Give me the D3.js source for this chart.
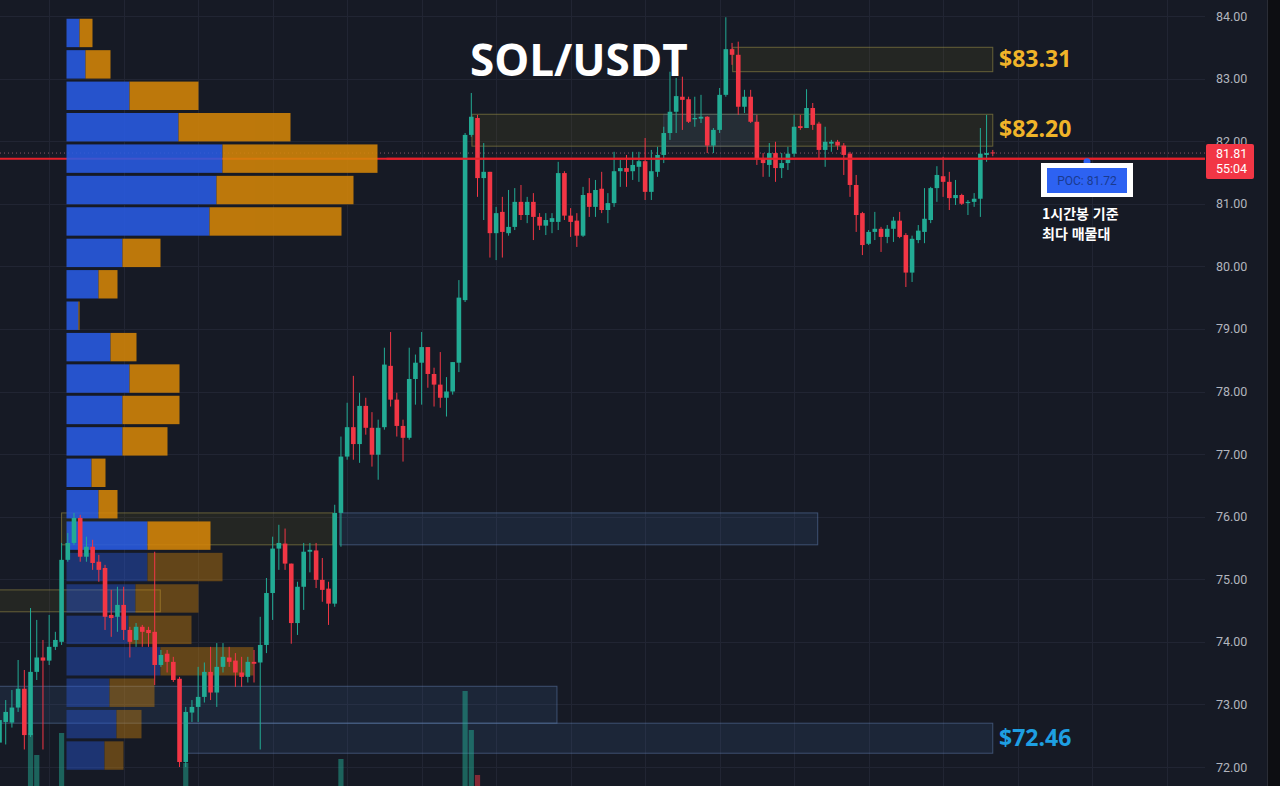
<!DOCTYPE html>
<html lang="ko">
<head>
<meta charset="utf-8">
<title>SOL/USDT</title>
<script src="https://cdn.jsdelivr.net/npm/d3@7/dist/d3.min.js"></script>
<style>
  html, body { margin: 0; padding: 0; background: #161a25; overflow: hidden; }
  svg { display: block; }
</style>
</head>
<body>
<div id="chart"></div>
<script>
const WIDTH = 1280;
const HEIGHT = 786;
const PLOT_RIGHT = 1205;
const AXIS_LABEL_X = 1216;

const BG = "#161a25";
const GRID = "#212533";
const UP = "#22ab94";
const DOWN = "#f23645";
const POC_RED = "#e4212b";

// 1h candles, [open, high, low, close]
const candleOHLC = [
  [72.39,72.88,72.31,72.75],[72.72,73.07,72.36,72.88],[72.71,73.23,72.63,72.95],[72.95,73.71,72.88,73.25],
  [73.25,73.55,72.28,72.51],[72.51,74.54,72.48,73.52],[73.52,74.35,73.39,73.75],[73.75,74.03,72.28,73.70],
  [73.70,74.43,73.63,73.92],[73.92,74.16,73.87,74.03],[74.00,75.58,73.95,75.31],[75.31,75.74,75.28,75.58],
  [75.58,76.06,75.55,75.98],[75.98,76.03,75.28,75.36],[75.36,75.68,75.28,75.52],[75.52,75.63,75.15,75.26],
  [75.28,75.39,74.96,75.15],[75.18,75.23,74.19,74.40],[74.43,74.83,74.08,74.38],[74.40,74.88,74.16,74.59],
  [74.59,74.88,74.03,74.19],[74.19,74.24,73.75,74.00],[74.03,74.30,73.92,74.24],[74.24,74.27,73.92,74.16],
  [74.19,74.24,73.92,74.14],[74.16,75.44,73.31,73.63],[73.63,73.87,73.60,73.79],[73.81,73.87,73.51,73.68],
  [73.68,73.76,73.36,73.39],[73.41,73.44,72.00,72.08],[72.08,72.96,72.00,72.88],[72.87,73.07,72.72,72.96],
  [72.96,73.60,72.72,73.12],[73.12,73.67,73.03,73.52],[73.52,73.92,73.07,73.19],[73.19,73.98,72.96,73.60],
  [73.60,73.98,73.51,73.76],[73.75,73.92,73.60,73.68],[73.70,73.82,73.28,73.51],[73.51,73.76,73.28,73.44],
  [73.44,73.76,73.35,73.68],[73.68,73.87,73.35,73.65],[73.67,74.40,72.28,73.95],[73.95,75.02,73.82,74.78],
  [74.78,75.68,74.35,75.49],[75.49,75.87,75.15,75.58],[75.57,75.81,75.15,75.25],[75.25,75.25,73.97,74.30],
  [74.30,74.96,74.11,74.88],[74.88,75.58,74.51,75.44],[75.44,75.58,75.11,75.47],[75.46,75.58,74.86,74.99],
  [74.99,75.34,74.64,74.83],[74.85,74.96,74.27,74.61],[74.61,76.19,74.56,76.06],[76.06,77.28,75.52,76.96],
  [76.96,77.82,76.91,77.43],[77.43,78.25,76.91,77.16],[77.16,77.98,76.86,77.77],[77.77,77.90,77.31,77.42],
  [77.42,77.67,76.80,76.99],[76.99,77.55,76.59,77.42],[77.43,78.70,77.39,78.43],[78.41,78.95,77.76,77.87],
  [77.87,77.98,77.28,77.45],[77.45,77.55,76.88,77.26],[77.26,78.70,77.23,78.20],[78.20,78.59,77.79,78.46],
  [78.46,78.95,77.79,78.71],[78.71,78.71,78.06,78.28],[78.28,78.38,77.76,78.11],[78.11,78.63,77.74,77.90],
  [77.90,78.23,77.60,78.00],[78.00,78.47,77.95,78.47],[78.46,79.78,78.31,79.50],[79.46,82.13,79.43,82.10],
  [82.10,82.77,82.07,82.39],[82.37,82.42,81.11,81.41],[81.41,81.97,80.74,81.51],[81.51,81.51,80.14,80.53],
  [80.53,80.95,80.10,80.85],[80.87,81.11,80.14,80.55],[80.53,81.22,80.49,80.63],[80.63,81.25,80.58,81.03],
  [81.03,81.30,80.74,80.82],[80.82,81.11,80.69,81.03],[81.03,81.17,80.42,80.79],[80.79,80.85,80.58,80.65],
  [80.65,80.85,80.50,80.74],[80.71,80.85,80.53,80.77],[80.71,81.67,80.58,81.49],[81.49,81.52,80.74,80.81],
  [80.81,80.93,80.47,80.71],[80.73,80.85,80.31,80.49],[80.49,81.27,80.47,81.14],[81.17,81.41,80.79,80.95],
  [80.95,81.38,80.79,81.22],[81.24,81.51,80.85,80.90],[80.90,81.17,80.69,81.01],[81.01,81.83,80.95,81.52],
  [81.52,81.70,81.27,81.57],[81.57,81.78,81.27,81.51],[81.52,81.83,81.38,81.62],[81.59,81.83,81.35,81.68],
  [81.68,82.05,81.06,81.19],[81.19,81.86,81.06,81.52],[81.51,81.91,81.43,81.78],[81.78,82.23,81.65,82.13],
  [82.13,83.11,82.02,82.47],[82.47,83.01,82.13,82.72],[82.71,83.03,82.18,82.66],[82.67,82.71,82.29,82.31],
  [82.35,82.71,82.23,82.37],[82.36,82.74,82.29,82.39],[82.39,82.40,81.81,81.93],[81.93,82.21,81.81,82.18],
  [82.18,82.85,82.13,82.74],[82.74,83.98,82.71,83.47],[83.47,83.57,83.22,83.38],[83.38,83.59,82.42,82.55],
  [82.55,82.82,82.45,82.71],[82.71,82.82,82.29,82.31],[82.31,82.42,81.62,81.73],[81.73,81.81,81.43,81.65],
  [81.62,81.97,81.43,81.81],[81.81,81.99,81.35,81.57],[81.57,81.81,81.41,81.65],[81.65,81.91,81.54,81.80],
  [81.80,82.42,81.75,82.23],[82.24,82.42,82.18,82.21],[82.21,82.83,82.21,82.53],[82.53,82.61,82.18,82.26],
  [82.28,82.31,81.73,81.86],[81.86,82.23,81.59,81.99],[81.96,82.02,81.83,81.99],[81.99,82.02,81.86,81.93],
  [81.93,81.97,81.46,81.78],[81.80,81.83,81.11,81.30],[81.30,81.46,80.55,80.82],[80.85,80.87,80.18,80.34],
  [80.36,80.58,80.34,80.55],[80.55,80.87,80.42,80.60],[80.60,80.63,80.23,80.47],[80.47,80.66,80.37,80.60],
  [80.60,80.79,80.39,80.73],[80.73,80.87,80.45,80.47],[80.50,80.53,79.67,79.90],[79.90,80.49,79.75,80.44],
  [80.42,80.66,80.37,80.57],[80.55,81.25,80.37,80.76],[80.74,81.27,80.69,81.25],[81.25,81.60,81.03,81.46],
  [81.44,81.75,81.11,81.35],[81.35,81.51,80.90,81.09],[81.09,81.38,80.98,81.14],[81.14,81.16,80.98,81.00],
  [81.01,81.06,80.82,81.03],[81.03,81.17,80.95,81.08],[81.08,82.21,80.79,81.80],[81.78,82.42,81.67,81.81],
  [81.82,81.86,81.76,81.81]
];

// only the tallest volume bars reach into view: [candle index, volume]
const volumeSpikes = [[5,117],[6,95],[10,117],[30,87],[55,91],[75,159],[76,120],[77,75]];

// volume profile rows, top to bottom
const profileUp   = [13,19,63,112,156,150,143,56,32,12,44,63,56,56,25,32,81,81,69,62,94,43,50,38];
const profileDown = [13,25,69,112,155,137,132,38,19,1,26,50,57,45,14,19,63,75,63,63,93,45,25,19];
const valueAreaRows = 17;
const profileTop = 83.98;
const profileRowSize = 0.502;

const priceTicks = d3.range(72, 85);
const timeGridIdx = d3.range(8, 189, 12);

// boxes: candle index span and price band
const zones = [
  { start: 118.1, end: 160, hi: 83.50, lo: 83.11, kind: "supply" },
  { start: 76.1, end: 160, hi: 82.43, lo: 81.92, kind: "supply" },
  { start: 107, end: 122, hi: 82.43, lo: 81.92, kind: "tint" },
  { start: 10, end: 53.7, hi: 76.06, lo: 75.55, kind: "supply" },
  { start: 54.8, end: 131.8, hi: 76.06, lo: 75.55, kind: "demand" },
  { start: -1, end: 25.9, hi: 74.83, lo: 74.48, kind: "supply" },
  { start: -1, end: 89.8, hi: 73.29, lo: 72.70, kind: "demand" },
  { start: 30, end: 160, hi: 72.70, lo: 72.22, kind: "demand" }
];

const zoneLabels = [
  { text: "$83.31", price: 83.31, kind: "supply" },
  { text: "$82.20", price: 82.20, kind: "supply" },
  { text: "$72.46", price: 72.46, kind: "demand" }
];

const pocPrice = 81.72;
const lastPrice = 81.81;
const countdown = "55:04";
const title = "SOL/USDT";
const pocNote = ["1시간봉 기준", "최다 매물대"];

const zoneStyle = {
  supply: { fill: "rgba(120,110,30,0.15)", stroke: "rgba(150,140,70,0.6)" },
  demand: { fill: "rgba(70,110,170,0.15)", stroke: "rgba(100,130,180,0.5)" },
  tint: { fill: "rgba(50,100,190,0.12)", stroke: "rgba(100,130,180,0.25)" }
};
const labelColor = { supply: "#f0b429", demand: "#1e9fe2" };

const x = d3.scaleLinear().domain([0, 188]).range([-0.5, 1166.6]);
const y = d3.scaleLinear().domain([72, 84]).range([767, 16]);
const vy = d3.scaleLinear().domain([0, 200]).range([850, 650]);
const px = d3.scaleLinear().domain([0, 320]).range([66.5, 386.5]);

const BODY_W = 4.6;

const svg = d3.select("#chart").append("svg")
  .attr("width", WIDTH)
  .attr("height", HEIGHT);

svg.append("rect").attr("width", WIDTH).attr("height", HEIGHT).attr("fill", BG);

// grid
const gridH = svg.append("g");
gridH.selectAll("line").data(priceTicks).join("line")
  .attr("x1", 0).attr("x2", PLOT_RIGHT)
  .attr("y1", (d) => Math.round(y(d)) + 0.5)
  .attr("y2", (d) => Math.round(y(d)) + 0.5)
  .attr("stroke", GRID);

const gridV = svg.append("g");
gridV.selectAll("line").data(timeGridIdx).join("line")
  .attr("x1", (d) => Math.round(x(d)) + 0.5)
  .attr("x2", (d) => Math.round(x(d)) + 0.5)
  .attr("y1", 0).attr("y2", HEIGHT)
  .attr("stroke", GRID);

// boxes
svg.append("g").selectAll("rect").data(zones).join("rect")
  .attr("x", (d) => x(d.start))
  .attr("width", (d) => x(d.end) - x(d.start))
  .attr("y", (d) => y(d.hi))
  .attr("height", (d) => y(d.lo) - y(d.hi))
  .attr("fill", (d) => zoneStyle[d.kind].fill)
  .attr("stroke", (d) => zoneStyle[d.kind].stroke)
  .attr("stroke-width", 1);

// last price dotted line
svg.append("line")
  .attr("x1", 0).attr("x2", PLOT_RIGHT)
  .attr("y1", y(lastPrice)).attr("y2", y(lastPrice))
  .attr("stroke", "#8a5a66")
  .attr("stroke-dasharray", "1,3");

// POC line under the profile
svg.append("line")
  .attr("x1", 0).attr("x2", PLOT_RIGHT)
  .attr("y1", y(pocPrice)).attr("y2", y(pocPrice))
  .attr("stroke", POC_RED)
  .attr("stroke-width", 2);

// volume profile
const rows = profileUp.map((up, k) => ({
  k,
  up,
  down: profileDown[k],
  top: profileTop - profileRowSize * k,
  inValue: k < valueAreaRows
}));

const profile = svg.append("g");
const rowG = profile.selectAll("g").data(rows).join("g")
  .attr("opacity", (d) => (d.inValue ? 0.87 : 0.4));

rowG.append("rect")
  .attr("x", px(0))
  .attr("y", (d) => y(d.top) + 1.5)
  .attr("width", (d) => px(d.up) - px(0))
  .attr("height", (d) => y(d.top - profileRowSize) - y(d.top) - 3)
  .attr("fill", "#295ce5");

rowG.append("rect")
  .attr("x", (d) => px(d.up))
  .attr("y", (d) => y(d.top) + 1.5)
  .attr("width", (d) => px(d.up + d.down) - px(d.up))
  .attr("height", (d) => y(d.top - profileRowSize) - y(d.top) - 3)
  .attr("fill", "#d68608");

// volume bars (bottom pane, mostly out of view)
svg.append("g").selectAll("rect").data(volumeSpikes).join("rect")
  .attr("x", (d) => x(d[0]) - 2.6)
  .attr("width", 5.2)
  .attr("y", (d) => vy(d[1]))
  .attr("height", (d) => vy(0) - vy(d[1]))
  .attr("fill", (d) => {
    const c = candleOHLC[d[0]];
    return c[3] >= c[0] ? UP : DOWN;
  })
  .attr("opacity", 0.5);

// candles
const candles = candleOHLC.map((c, i) => ({ i, o: c[0], h: c[1], l: c[2], c: c[3] }));
const cg = svg.append("g").selectAll("g").data(candles).join("g")
  .attr("fill", (d) => (d.c >= d.o ? UP : DOWN))
  .attr("stroke", (d) => (d.c >= d.o ? UP : DOWN));

cg.append("line")
  .attr("x1", (d) => x(d.i)).attr("x2", (d) => x(d.i))
  .attr("y1", (d) => y(d.h)).attr("y2", (d) => y(d.l))
  .attr("stroke-width", 1);

cg.append("rect")
  .attr("x", (d) => x(d.i) - BODY_W / 2)
  .attr("width", BODY_W)
  .attr("y", (d) => y(Math.max(d.o, d.c)))
  .attr("height", (d) => Math.max(1, Math.abs(y(d.o) - y(d.c))))
  .attr("stroke", "none");

// POC line again over the candles, right of the profile
svg.append("line")
  .attr("x1", px(320)).attr("x2", PLOT_RIGHT)
  .attr("y1", y(pocPrice)).attr("y2", y(pocPrice))
  .attr("stroke", POC_RED)
  .attr("stroke-width", 2);

// title
svg.append("text")
  .attr("x", 470).attr("y", 76)
  .attr("fill", "#ffffff")
  .attr("font-family", "'Open Sans', 'Noto Sans', sans-serif")
  .attr("font-weight", 700)
  .attr("font-size", 44)
  .text(title);

// box price labels
svg.append("g").selectAll("text").data(zoneLabels).join("text")
  .attr("x", 999)
  .attr("y", (d) => y(d.price))
  .attr("dy", "0.36em")
  .attr("fill", (d) => labelColor[d.kind])
  .attr("font-family", "'Open Sans', 'Noto Sans', sans-serif")
  .attr("font-weight", 700)
  .attr("font-size", 23)
  .text((d) => d.text);

// POC callout
const pocX = 1087;
svg.append("circle")
  .attr("cx", pocX).attr("cy", y(pocPrice) + 3)
  .attr("r", 3.5)
  .attr("fill", "#2d62f2");
svg.append("rect")
  .attr("x", pocX - 46).attr("y", 163)
  .attr("width", 92).attr("height", 34)
  .attr("fill", "#ffffff");
svg.append("rect")
  .attr("x", pocX - 40).attr("y", 168)
  .attr("width", 80).attr("height", 25)
  .attr("fill", "#2d62f2");
svg.append("text")
  .attr("x", pocX).attr("y", 180.5)
  .attr("dy", "0.35em")
  .attr("text-anchor", "middle")
  .attr("fill", "#1a3a8f")
  .attr("font-family", "Roboto, 'DejaVu Sans', sans-serif")
  .attr("font-size", 12)
  .text(`POC: ${pocPrice.toFixed(2)}`);

svg.append("g").selectAll("text").data(pocNote).join("text")
  .attr("x", pocX - 45)
  .attr("y", (d, i) => 214 + i * 20)
  .attr("dy", "0.36em")
  .attr("fill", "#ffffff")
  .attr("font-family", "'Noto Sans CJK KR', sans-serif")
  .attr("font-weight", 700)
  .attr("font-size", 14)
  .text((d) => d);

// right price axis
const axis = svg.append("g")
  .attr("transform", `translate(${AXIS_LABEL_X},0)`)
  .call(
    d3.axisRight(y)
      .tickValues(priceTicks)
      .tickSize(0)
      .tickPadding(0)
      .tickFormat(d3.format(".2f"))
  );
axis.select(".domain").remove();
axis.selectAll("text")
  .attr("fill", "#b2b5be")
  .attr("font-family", "Roboto, 'Liberation Sans', sans-serif")
  .attr("font-size", 12.5);

// last price tag
svg.append("rect")
  .attr("x", 1206).attr("y", y(lastPrice) - 9)
  .attr("width", 48).attr("height", 35)
  .attr("rx", 2)
  .attr("fill", DOWN);
svg.append("g").selectAll("text").data([lastPrice.toFixed(2), countdown]).join("text")
  .attr("x", AXIS_LABEL_X)
  .attr("y", (d, i) => y(lastPrice) + 1 + i * 15)
  .attr("dy", "0.35em")
  .attr("fill", "#ffffff")
  .attr("font-family", "Roboto, 'Liberation Sans', sans-serif")
  .attr("font-size", 12.5)
  .text((d) => d);

// window edge strip
svg.append("rect")
  .attr("x", 1267).attr("y", 0)
  .attr("width", WIDTH - 1267).attr("height", HEIGHT)
  .attr("fill", "#0d0e12");
svg.append("line")
  .attr("x1", 1267.5).attr("x2", 1267.5)
  .attr("y1", 0).attr("y2", HEIGHT)
  .attr("stroke", "#2a2d36");
</script>
</body>
</html>
